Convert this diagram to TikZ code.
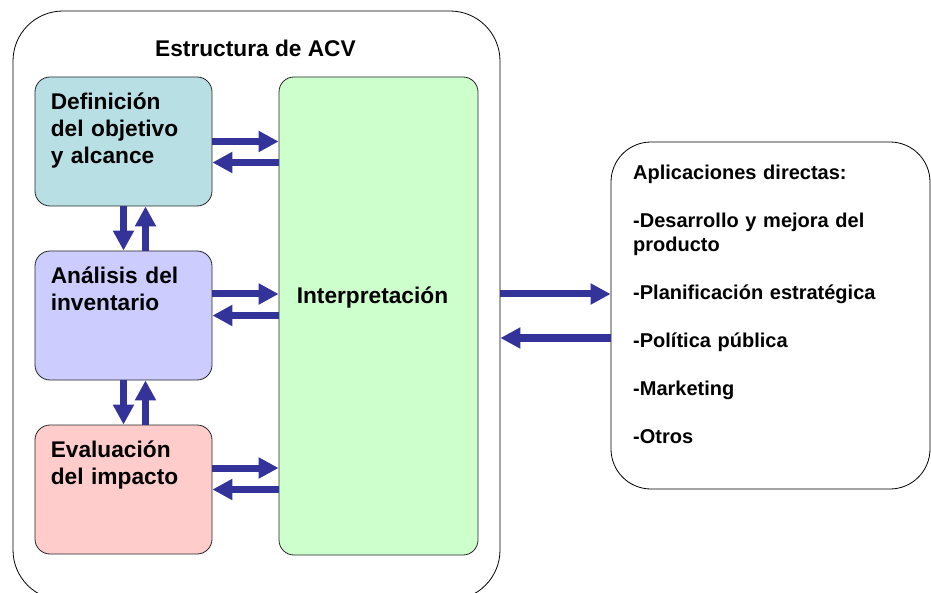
\documentclass[tikz,border=0pt]{standalone}
\usepackage{fontspec}
\setmainfont{Liberation Sans}
\usetikzlibrary{arrows.meta}
\definecolor{flechaazul}{RGB}{51,51,153}
\definecolor{defcolor}{RGB}{184,223,227}
\definecolor{invcolor}{RGB}{204,204,255}
\definecolor{impcolor}{RGB}{255,204,204}
\definecolor{intcolor}{RGB}{204,255,204}

\begin{document}
\begin{tikzpicture}[x=1pt, y=-1pt,
    caja/.style={draw=black!85, line width=0.8pt, inner sep=0pt},
    fase/.style={caja, rounded corners=15pt, minimum width=177pt, minimum height=129pt},
    texto/.style={anchor=base west, align=left, inner sep=0pt, text width=170pt,
      font=\fontsize{22.7}{27}\selectfont\bfseries},
    flecha/.style={draw=flechaazul, line width=7pt, -{Triangle[width=20pt,length=20pt]}}]
    \useasboundingbox (0,0) rectangle (931,593);

    % marco de la estructura
    \node[caja, draw=black, rounded corners=50pt, minimum width=487pt, minimum height=589pt] (acv) at (256.5,305.5) {};
    \node[font=\fontsize{22.7}{27}\selectfont\bfseries, anchor=base, inner sep=0pt] (titulo) at (255.5,57) {Estructura de ACV};

    % fases
    \node[fase, fill=defcolor] (def) at (123.5,141.5) {};
    \node[fase, fill=invcolor] (inv) at (123.5,315.5) {};
    \node[fase, fill=impcolor] (imp) at (123.5,489.5) {};
    \node[caja, fill=intcolor, rounded corners=15pt, minimum width=199pt, minimum height=478pt] (interp) at (378.5,316) {};

    \node[texto] (defTxt) at ([xshift=16pt,yshift=-33pt]def.north west) {Definición\\del objetivo\\y alcance};
    \node[texto] (invTxt) at ([xshift=16pt,yshift=-33pt]inv.north west) {Análisis del\\inventario};
    \node[texto] (impTxt) at ([xshift=16pt,yshift=-33pt]imp.north west) {Evaluación\\del impacto};
    \node[texto] (intTxt) at ([xshift=18pt,yshift=-227pt]interp.north west) {Interpretación};

    % aplicaciones
    \node[caja, draw=black, rounded corners=40pt, minimum width=319pt, minimum height=347pt] (apps) at (770.5,315.5) {};
    \node[anchor=base west, align=left, inner sep=0pt, text width=290pt,
      font=\fontsize{20}{24}\selectfont\bfseries] (appsTxt) at (633,180)
      {Aplicaciones directas:\\[24pt]-Desarrollo y mejora del\\producto\\[24pt]-Planificación estratégica\\[24pt]-Política pública\\[24pt]-Marketing\\[24pt]-Otros};

    % flechas fases - interpretacion
    \coordinate (d2) at ([yshift=-21pt]def.east);
    \coordinate (i1) at ([yshift=21.5pt]inv.east);
    \coordinate (e1) at ([yshift=21.5pt]imp.east);
    \draw[flecha] (def.east) -- (def.east -| interp.west);
    \draw[flecha] (d2 -| interp.west) -- (d2);
    \draw[flecha] (i1) -- (i1 -| interp.west);
    \draw[flecha] (inv.east -| interp.west) -- (inv.east);
    \draw[flecha] (e1) -- (e1 -| interp.west);
    \draw[flecha] (imp.east -| interp.west) -- (imp.east);

    % flechas entre fases
    \coordinate (v1) at ([xshift=22pt]def.south);
    \coordinate (v2) at ([xshift=22pt]inv.south);
    \draw[flecha] (def.south) -- (inv.north);
    \draw[flecha] (v1 |- inv.north) -- (v1);
    \draw[flecha] (inv.south) -- (imp.north);
    \draw[flecha] (v2 |- imp.north) -- (v2);

    % flechas estructura - aplicaciones
    \coordinate (a1) at ([yshift=21.5pt]apps.west);
    \coordinate (a2) at ([yshift=-22.5pt]apps.west);
    \draw[flecha] (a1 -| acv.east) -- (a1);
    \draw[flecha] (a2) -- (a2 -| acv.east);
\end{tikzpicture}
\end{document}
